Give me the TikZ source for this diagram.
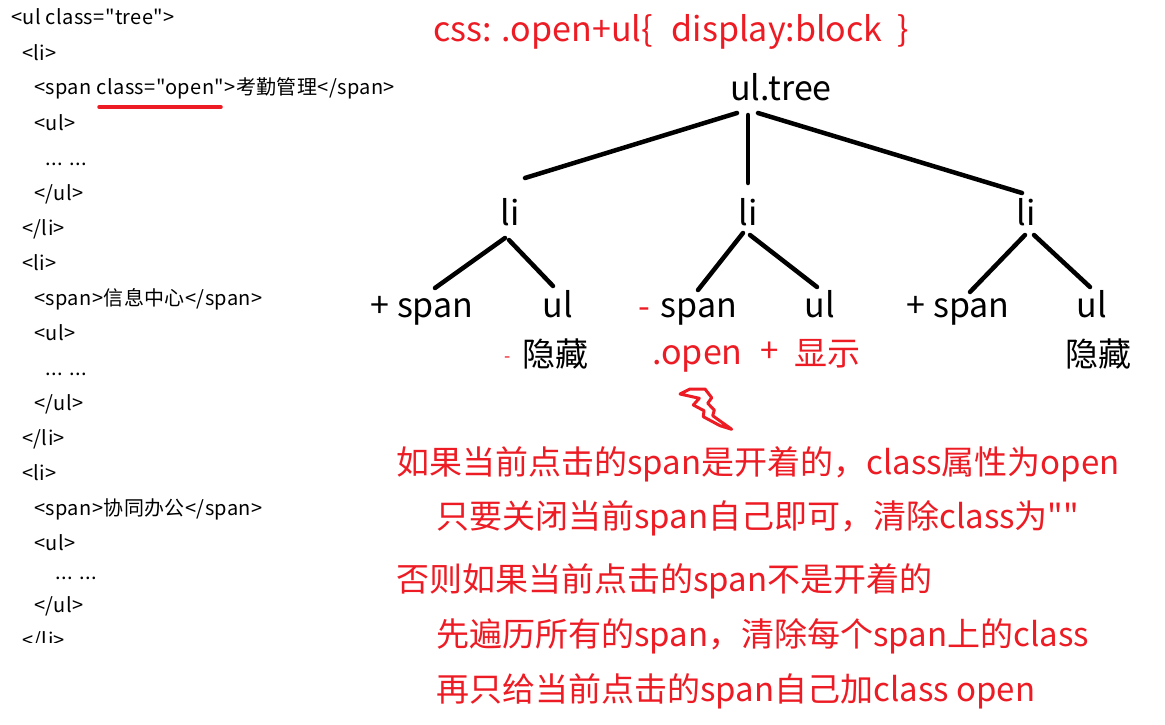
\documentclass[tikz,border=0pt]{standalone}
\usepackage{fontspec}
\setmainfont{Noto Sans CJK SC}[Ligatures=TeXOff]
\newfontfamily\codefont{Noto Sans CJK SC}[Ligatures=TeXOff, LetterSpace=2]
\usetikzlibrary{calc}
\definecolor{pred}{RGB}{237,28,36}
\begin{document}
\begin{tikzpicture}[x=1pt,y=-1pt,
  code/.style={anchor=base west, inner sep=0pt, font=\codefont\fontsize{20pt}{24pt}\selectfont},
  lbl/.style={anchor=base, inner sep=0pt, font=\fontsize{34pt}{40pt}\selectfont},
  cjk/.style={anchor=center, inner sep=0pt, font=\fontsize{33pt}{40pt}\selectfont},
  note/.style={anchor=base west, inner sep=0pt, text=pred, font=\fontsize{33pt}{40pt}\selectfont},
  treeline/.style={line width=4.5pt, line cap=round}]
\useasboundingbox (0,0) rectangle (1165,725);
\fill[white] (0,0) rectangle (1165,725);

% code listing
\node[code] (c1) at (11,25) {<ul class="tree">};
\node[code] (c2) at (22,60) {<li>};
\node[code] (c3) at (34,95) {<span class="open">考勤管理</span>};
\node[code] (c4) at (34,130) {<ul>};
\node[code] (c5) at (45,165) {... ...};
\node[code] (c6) at (34,200) {</ul>};
\node[code] (c7) at (22,235) {</li>};
\node[code] (c8) at (22,270) {<li>};
\node[code] (c9) at (34,305) {<span>信息中心</span>};
\node[code] (c10) at (34,340) {<ul>};
\node[code] (c11) at (45,375) {... ...};
\node[code] (c12) at (34,410) {</ul>};
\node[code] (c13) at (22,445) {</li>};
\node[code] (c14) at (22,480) {<li>};
\node[code] (c15) at (34,515) {<span>协同办公</span>};
\node[code] (c16) at (34,550) {<ul>};
\node[code] (c17) at (55,579) {... ...};
\node[code] (c18) at (34,612) {</ul>};
\begin{scope}
  \clip (0,0) rectangle (400,642);
  \node[code] (c19) at (22,647) {</li>};
\end{scope}
\draw[pred, line width=3.5pt, line cap=round] (99,107) -- (221,107);

% header
\node[note, font=\fontsize{34pt}{40pt}\selectfont] (css) at (433,42) {css: .open+ul\{\hspace{19pt}display:block\hspace{15pt}\}};

% tree
\node[lbl] (root) at (781,100) {ul.tree};
\node[lbl] (li1) at (510,225) {li};
\node[lbl] (li2) at (748,225) {li};
\node[lbl] (li3) at (1026,225) {li};
\node[lbl] (sp1) at (422,317) {+ span};
\node[lbl] (ul1) at (558,317) {ul};
\node[lbl, text=pred] (mn2) at (644,318) {-};
\node[lbl] (sp2) at (699,317) {span};
\node[lbl] (ul2) at (820,317) {ul};
\node[lbl] (sp3) at (958,317) {+ span};
\node[lbl] (ul3) at (1092,317) {ul};

\draw[treeline] ($(root.base)+(-44,13)$) -- ($(li1.base)+(15,-47)$);
\draw[treeline] ($(root.base)+(-33,15)$) -- ($(li2.base)+(0,-42)$);
\draw[treeline] ($(root.base)+(-23,13)$) -- ($(li3.base)+(-4,-32)$);
\draw[treeline] ($(li1.base)+(-5,13)$) -- ($(sp1.base)+(13,-29)$);
\draw[treeline] ($(li1.base)+(-1,15)$) -- ($(ul1.base)+(-5,-31)$);
\draw[treeline] ($(li2.base)+(-5,8)$) -- ($(sp2.base)+(-1,-27)$);
\draw[treeline] ($(li2.base)+(2,10)$) -- ($(ul2.base)+(-3,-30)$);
\draw[treeline] ($(li3.base)+(-1,10)$) -- ($(sp3.base)+(12,-25)$);
\draw[treeline] ($(li3.base)+(8,10)$) -- ($(ul3.base)+(-2,-30)$);

% third row
\node[anchor=base, inner sep=0pt, text=pred, font=\fontsize{18pt}{20pt}\selectfont] (mn1) at (508,362) {-};
\node[cjk] (hide1) at (555.5,354) {隐藏};
\node[lbl, text=pred] (open) at (697.5,364) {.open};
\node[cjk, text=pred] (plus) at (770,352) {+};
\node[cjk, text=pred] (show) at (827.5,354) {显示};
\node[cjk] (hide3) at (1098,354) {隐藏};

% lightning
\draw[pred, line width=3pt, line join=round] (680,394) -- (690,389) -- (705,389) -- (711.7,397.7) -- (707.7,403.3) -- (714.3,410) -- (712.7,415.7) -- (731.7,429.3) -- (720,425.7) -- (703.3,416.7) -- (704,410.7) -- (693.3,405) -- (699.3,398.3) -- cycle;

% notes
\node[note] (n1) at (396,474) {如果当前点击的span是开着的，class属性为open};
\node[note] (n2) at (436,528) {只要关闭当前span自己即可，清除class为""};
\node[note] (n3) at (396,591) {否则如果当前点击的span不是开着的};
\node[note] (n4) at (436,646) {先遍历所有的span，清除每个span上的class};
\node[note] (n5) at (436,701) {再只给当前点击的span自己加class open};
\end{tikzpicture}
\end{document}
